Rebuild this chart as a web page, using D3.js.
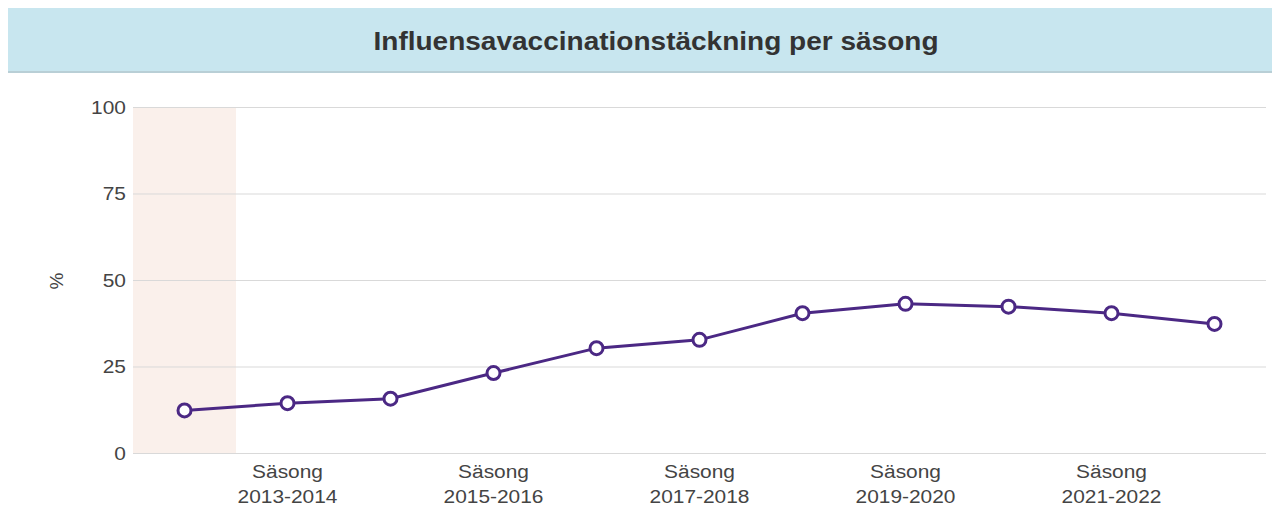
<!DOCTYPE html>
<html><head><meta charset="utf-8">
<script src="https://cdn.jsdelivr.net/npm/d3@7"></script>
<style>
body{margin:0;background:#fff;font-family:"Liberation Sans",Arial,sans-serif;}
</style></head>
<body><svg id="c" width="1279" height="509"></svg>
<script>
const title = "Influensavaccinationstäckning per säsong";
const seasons = ["2012-2013","2013-2014","2014-2015","2015-2016","2016-2017","2017-2018","2018-2019","2019-2020","2020-2021","2021-2022","2022-2023"];
const values = [12.3,14.4,15.7,23.1,30.3,32.7,40.4,43.1,42.3,40.4,37.3];
const yTicks = [0,25,50,75,100];
const labelledSeasons = ["2013-2014","2015-2016","2017-2018","2019-2020","2021-2022"];
const highlighted = ["2012-2013"];

const svg = d3.select("#c");
// title bar
svg.append("rect").attr("x",8).attr("y",8).attr("width",1264).attr("height",64).attr("fill","#c8e6ef");
svg.append("rect").attr("x",8).attr("y",71).attr("width",1264).attr("height",2).attr("fill","#b9cfd6");
svg.append("text").attr("x",656).attr("y",50).attr("text-anchor","middle")
  .attr("font-size",25).attr("font-weight","bold").attr("fill","#333")
  .attr("textLength",565).attr("lengthAdjust","spacingAndGlyphs").text(title);

const x = d3.scaleBand().domain(seasons).range([133,1266]);
const y = d3.scaleLinear().domain([0,100]).range([453,107]);

// highlight band
svg.selectAll("rect.hl").data(highlighted).enter().append("rect").attr("class","hl")
  .attr("x",d=>x(d)).attr("width",x.bandwidth()).attr("y",y(100)).attr("height",y(0)-y(100)).attr("fill","#faf0eb");

// gridlines
svg.selectAll("line.g").data(yTicks).enter().append("line").attr("class","g")
  .attr("x1",133).attr("x2",1266).attr("y1",d=>y(d)+0.5).attr("y2",d=>y(d)+0.5)
  .attr("stroke","#d9d9d9").attr("stroke-width",1);

// y axis labels
svg.selectAll("text.yt").data(yTicks).enter().append("text").attr("class","yt")
  .attr("x",126).attr("y",d=>y(d)+7).attr("text-anchor","end").attr("font-size",19).attr("fill","#444")
  .attr("transform",d=>`translate(126,0) scale(1.1,1) translate(-126,0)`).text(d=>d);
svg.append("text").attr("transform","translate(63,281) rotate(-90)").attr("text-anchor","middle")
  .attr("font-size",19).attr("fill","#444").text("%");

// x labels
const xl = svg.selectAll("g.xl").data(labelledSeasons).enter().append("g").attr("class","xl")
  .attr("transform",d=>`translate(${x(d)+x.bandwidth()/2},0) scale(1.1,1)`);
xl.append("text").attr("y",478).attr("text-anchor","middle").attr("font-size",19).attr("fill","#444").text("Säsong");
xl.append("text").attr("y",503).attr("text-anchor","middle").attr("font-size",19).attr("fill","#444").text(d=>d);

// line
const cx = d=>x(d)+x.bandwidth()/2;
const line = d3.line().x((d,i)=>cx(seasons[i])).y(d=>y(d));
svg.append("path").datum(values).attr("d",line).attr("fill","none").attr("stroke","#4b2884").attr("stroke-width",3);
svg.selectAll("circle").data(values).enter().append("circle")
  .attr("cx",(d,i)=>cx(seasons[i])).attr("cy",d=>y(d)).attr("r",6.5)
  .attr("fill","#fff").attr("stroke","#4b2884").attr("stroke-width",3);
</script></body></html>
